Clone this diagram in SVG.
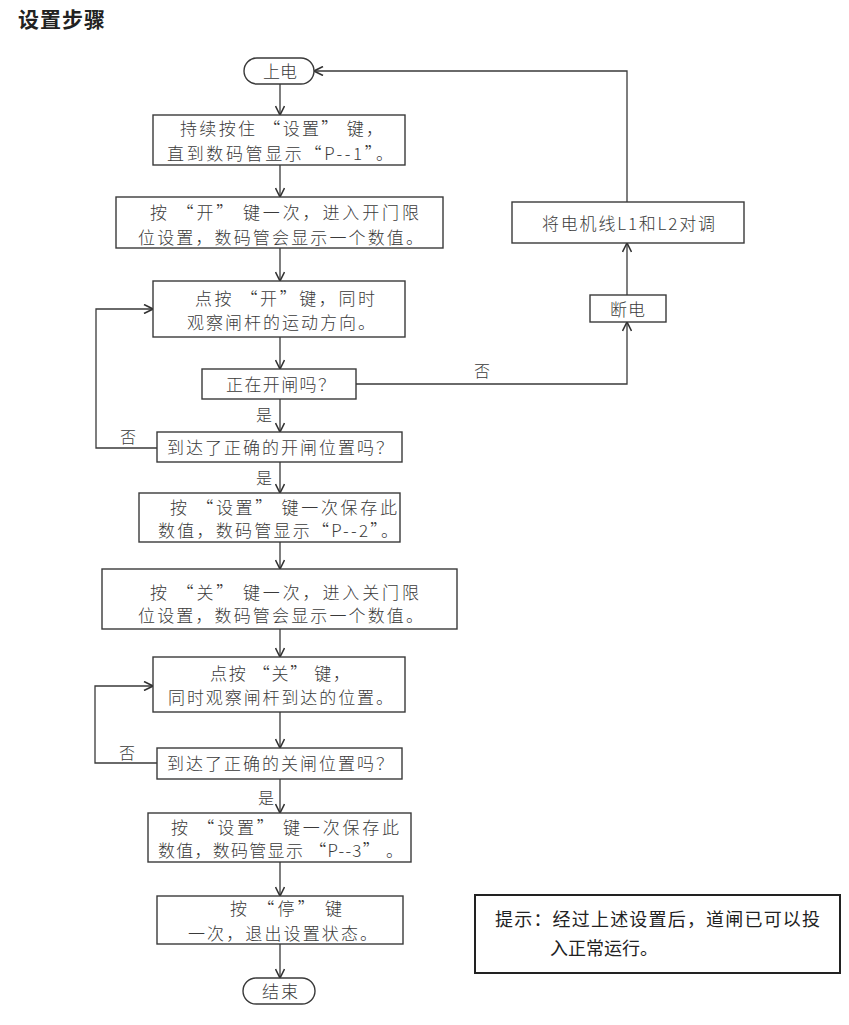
<svg xmlns="http://www.w3.org/2000/svg" width="849" height="1025" viewBox="0 0 849 1025">
<style>
.bx{fill:#fff;stroke:#3a3a3a;stroke-width:1.4}
.t{font-family:"Noto Sans CJK SC","Liberation Serif",serif;font-size:17px;font-weight:300;fill:#3a3a3a;text-anchor:start}
.lb{font-family:"Noto Sans CJK SC","Liberation Serif",serif;font-size:16px;font-weight:300;fill:#3a3a3a;text-anchor:middle}
.ln{fill:none;stroke:#3a3a3a;stroke-width:1.3}
</style>
<defs>
<marker id="ah" viewBox="0 0 10 10" refX="10" refY="5" markerWidth="10" markerHeight="10" markerUnits="userSpaceOnUse" orient="auto">
<path d="M1,0.5 L10,5 L1,9.5" fill="none" stroke="#333" stroke-width="1.6"/>
</marker>
</defs>
<rect width="849" height="1025" fill="#fff"/>
<text x="18" y="27" font-family="Noto Sans CJK SC, sans-serif" font-size="21" font-weight="bold" fill="#222" textLength="87" lengthAdjust="spacing">设置步骤</text>

<g id="connectors">
<path class="ln" d="M280,84 V115" marker-end="url(#ah)"/>
<path class="ln" d="M280,165 V197" marker-end="url(#ah)"/>
<path class="ln" d="M280,248 V281" marker-end="url(#ah)"/>
<path class="ln" d="M280,337 V369" marker-end="url(#ah)"/>
<path class="ln" d="M280,399 V432" marker-end="url(#ah)"/>
<path class="ln" d="M280,462 V493" marker-end="url(#ah)"/>
<path class="ln" d="M280,542 V569" marker-end="url(#ah)"/>
<path class="ln" d="M280,629 V657" marker-end="url(#ah)"/>
<path class="ln" d="M280,712 V748" marker-end="url(#ah)"/>
<path class="ln" d="M280,779 V813" marker-end="url(#ah)"/>
<path class="ln" d="M280,862 V896" marker-end="url(#ah)"/>
<path class="ln" d="M280,944 V978" marker-end="url(#ah)"/>
<path class="ln" d="M157,448 H96 V309 H153" marker-end="url(#ah)"/>
<path class="ln" d="M157,763 H95 V686 H153" marker-end="url(#ah)"/>
<path class="ln" d="M356,384 H627 V322" marker-end="url(#ah)"/>
<path class="ln" d="M627,295 V243" marker-end="url(#ah)"/>
<path class="ln" d="M627,202 V71 H314" marker-end="url(#ah)"/>
<text class="lb" x="264" y="421">是</text>
<text class="lb" x="264" y="484">是</text>
<text class="lb" x="266" y="804">是</text>
<text class="lb" x="128" y="443">否</text>
<text class="lb" x="127" y="759">否</text>
<text class="lb" x="482" y="377">否</text>
</g>

<g id="n-start">
<rect class="bx" x="244" y="58" width="70" height="26" rx="13"/>
<text class="t" x="263" y="77.5" textLength="34" lengthAdjust="spacing">上电</text>
</g>
<g id="n-hold">
<rect class="bx" x="153" y="115" width="252" height="50"/>
<text class="t" x="180" y="134.5" textLength="203" lengthAdjust="spacing">持续按住 “设置” 键，</text>
<text class="t" x="167" y="159.5" textLength="226" lengthAdjust="spacing">直到数码管显示“P--1”。</text>
</g>
<g id="n-open">
<rect class="bx" x="116" y="197" width="327" height="51"/>
<text class="t" x="150" y="218.5" textLength="269" lengthAdjust="spacing">按 “开” 键一次，进入开门限</text>
<text class="t" x="138" y="243.5" textLength="285" lengthAdjust="spacing">位设置，数码管会显示一个数值。</text>
</g>
<g id="n-press-open">
<rect class="bx" x="153" y="281" width="252" height="56"/>
<text class="t" x="195" y="304.5" textLength="180" lengthAdjust="spacing">点按 “开”键，同时</text>
<text class="t" x="187" y="328.5" textLength="188" lengthAdjust="spacing">观察闸杆的运动方向。</text>
</g>
<g id="n-opening">
<rect class="bx" x="202" y="369" width="154" height="30"/>
<text class="t" x="226" y="390.5" textLength="109" lengthAdjust="spacing">正在开闸吗？</text>
</g>
<g id="n-open-pos">
<rect class="bx" x="157" y="432" width="245" height="30"/>
<text class="t" x="167" y="453.5" textLength="226" lengthAdjust="spacing">到达了正确的开闸位置吗？</text>
</g>
<g id="n-save2">
<rect class="bx" x="139" y="493" width="261" height="49"/>
<text class="t" x="170" y="513.5" textLength="227" lengthAdjust="spacing">按 “设置” 键一次保存此</text>
<text class="t" x="158" y="536.5" textLength="240" lengthAdjust="spacing">数值，数码管显示“P--2”。</text>
</g>
<g id="n-close">
<rect class="bx" x="102" y="569" width="355" height="60"/>
<text class="t" x="150" y="598.5" textLength="269" lengthAdjust="spacing">按 “关” 键一次，进入关门限</text>
<text class="t" x="138" y="621.5" textLength="285" lengthAdjust="spacing">位设置，数码管会显示一个数值。</text>
</g>
<g id="n-press-close">
<rect class="bx" x="153" y="657" width="252" height="55"/>
<text class="t" x="210" y="679.5" textLength="140" lengthAdjust="spacing">点按 “关” 键，</text>
<text class="t" x="168" y="703.5" textLength="225" lengthAdjust="spacing">同时观察闸杆到达的位置。</text>
</g>
<g id="n-close-pos">
<rect class="bx" x="157" y="748" width="245" height="31"/>
<text class="t" x="167" y="770" textLength="226" lengthAdjust="spacing">到达了正确的关闸位置吗？</text>
</g>
<g id="n-save3">
<rect class="bx" x="148" y="813" width="263" height="49"/>
<text class="t" x="171" y="833.5" textLength="228" lengthAdjust="spacing">按 “设置” 键一次保存此</text>
<text class="t" x="158" y="856.5" textLength="245" lengthAdjust="spacing">数值，数码管显示 “P--3” 。</text>
</g>
<g id="n-stop">
<rect class="bx" x="157" y="896" width="246" height="48"/>
<text class="t" x="230" y="914.5" textLength="112" lengthAdjust="spacing">按 “停” 键</text>
<text class="t" x="188" y="939.5" textLength="189" lengthAdjust="spacing">一次，退出设置状态。</text>
</g>
<g id="n-end">
<rect class="bx" x="243" y="978" width="72" height="26" rx="13"/>
<text class="t" x="262" y="997.5" textLength="36" lengthAdjust="spacing">结束</text>
</g>
<g id="n-poweroff">
<rect class="bx" x="590" y="295" width="76" height="27"/>
<text class="t" x="610" y="316" textLength="35" lengthAdjust="spacing">断电</text>
</g>
<g id="n-swap">
<rect class="bx" x="512" y="202" width="232" height="41"/>
<text class="t" x="542" y="229.5" textLength="173" lengthAdjust="spacing">将电机线L1和L2对调</text>
</g>
<g id="n-tip">
<rect x="475" y="895" width="365" height="78" fill="#fff" stroke="#222" stroke-width="2"/>
<text x="495" y="926" font-family="Noto Sans CJK SC, sans-serif" font-size="18" fill="#222" textLength="325" lengthAdjust="spacing">提示：经过上述设置后，道闸已可以投</text>
<text x="550" y="955" font-family="Noto Sans CJK SC, sans-serif" font-size="18" fill="#222">入正常运行。</text>
</g>
</svg>
